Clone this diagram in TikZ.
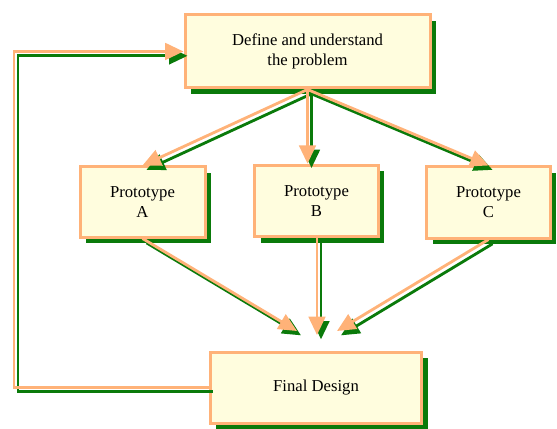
\documentclass[tikz,border=0pt]{standalone}
\usepackage{fontspec}
\setmainfont{Liberation Serif}
\usepackage{tikz}
\usetikzlibrary{arrows.meta,shadows}
\definecolor{peach}{RGB}{255,178,120}
\definecolor{leaf}{RGB}{10,122,10}
\definecolor{cream}{RGB}{255,253,222}
\tikzset{
  stage/.style={draw=peach, line width=1.8pt, fill=cream, align=center,
    font=\fontsize{10}{12}\selectfont,
    drop shadow={shadow xshift=3.4pt, shadow yshift=-3.4pt, fill=leaf, opacity=1}},
  link/.style={draw=peach, line width=1.7pt, -{Triangle[length=11pt,width=10pt]},
    preaction={draw=leaf, line width=1.7pt, transform canvas={xshift=2.4pt,yshift=-2.6pt}}}
}
\begin{document}
\begin{tikzpicture}[x=0.6pt,y=-0.6pt]
\useasboundingbox (0,0) rectangle (557,428);
\node[stage, minimum width=147pt, minimum height=43.8pt] (def) at (307.5,51.5) {Define and understand\\the problem};
\node[stage, minimum width=75pt, minimum height=42pt] (protoA) at (142.5,202) {Prototype\\A};
\node[stage, minimum width=74pt, minimum height=43pt] (protoB) at (316.5,201) {Prototype\\B};
\node[stage, minimum width=74pt, minimum height=42.6pt] (protoC) at (488.5,202.5) {Prototype\\C};
\node[stage, minimum width=127pt, minimum height=42.6pt] (final) at (316,387.5) {Final Design};
% where the three arrows stop above the final box
\coordinate (hitL) at (297,331);
\coordinate (hitM) at (317,335);
\coordinate (hitR) at (337,331);
\coordinate (loop) at (14,0);
\draw[link] (def.south) -- (protoA.north);
\draw[link] (def.south) -- (def.south |- protoB.north);
\draw[link] (def.south) -- (protoC.north);
\draw[link] (protoA.south) -- (hitL);
\draw[link] (protoB.south -| hitM) -- (hitM);
\draw[link] (protoC.south) -- (hitR);
\draw[link] (final.west) -- (final.west -| loop) |- (def.west);
\end{tikzpicture}
\end{document}
